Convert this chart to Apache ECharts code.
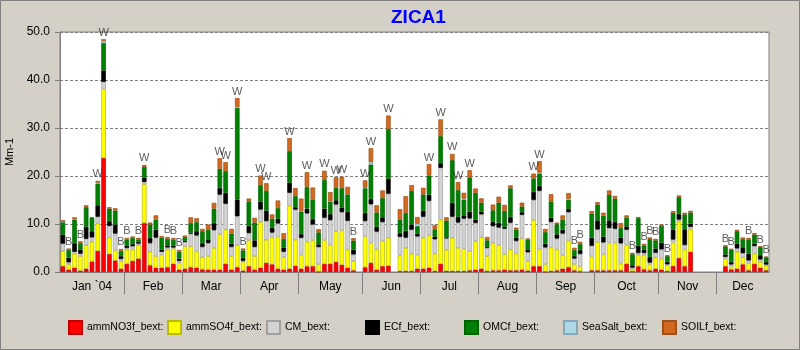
<!DOCTYPE html>
<html><head><meta charset="utf-8">
<script src="https://cdn.jsdelivr.net/npm/echarts@6/dist/echarts.min.js"></script>
<style>html,body{margin:0;padding:0;background:#d4d0c8}#c{width:800px;height:350px}</style>
</head><body><div id="c"></div>
<script>
// month tick boundaries (in sample slots) and month label positions
const monthLabels = ['Jan `04','Feb','Mar','Apr','May','Jun','Jul','Aug','Sep','Oct','Nov','Dec'];
const monthTicks = [11,21,31,41,52,62,72,82,92,103,113];
const monthLabelPos = [5.5,16,26,36,46.5,57,67,77,87,97.5,108,117.5];
const yTicks = [0,10,20,30,40,50];

const ammNO3f = [1.2,0.5,0.9,0.3,0.7,2.2,4.4,23.75,3.75,2.4, 0.7,1.7,2.3,2.8,10.2,1.4,0.9,0.9,1.0,1.7,
 0.5,0.7,1.0,0.9,0.55,0.5,0.5,0.5,1.7,0.5, 1.0,0.3,1.2,0.5,0.9,1.9,1.6,0.7,0.5,0.7,
 1.3,0.7,1.2,1.2,0.1,1.7,1.7,2.1,1.5,0.9, 0.35,null,1.0,1.9,0.5,1.2,1.3,null,0.2,0.2,
 0.2,0.7,0.7,0.9,0.2,1.7,0.2,0.2,0.2,0.2, 0.35,0.5,0.7,0.2,0.35,0.35,0.5,0.35,0.35,0.5,
 0.3,1.2,1.2,0.1,0.2,0.35,0.7,1.0,0.35,0.15, null,0.35,0.35,0.35,0.35,0.35,0.35,1.7,0.15,1.2,
 0.55,0.35,0.7,0.5,0.2,1.25,2.9,1.2,4.2,null, null,null,null,null,1.2,0.55,0.7,1.6,0.35,1.7,
 0.9,0.35];
const ammSO4f = [3.2,1.1,2.9,3.0,4.9,4.1,5.7,14.45,3.4,2.1, 1.5,2.95,2.35,2.8,8.1,2.8,2.4,2.7,3.65,3.2,
 1.4,4.65,4.35,3.4,2.55,2.8,4.5,7.35,7.1,2.8, 4.6,1.8,5.4,2.8,9.5,4.8,5.7,6.7,2.6,13.1,
 5.4,2.9,5.1,5.4,1.5,4.9,4.0,6.4,7.15,3.75, 1.9,null,6.4,4.2,4.2,5.2,5.8,null,3.2,4.8,
 3.6,2.9,6.4,6.7,3.6,9.2,4.4,6.9,4.8,4.65, 4.0,5.9,6.5,3.1,5.7,5.2,3.2,4.3,3.5,6.5,
 2.0,9.6,3.5,1.5,4.9,4.3,2.8,5.55,1.25,1.0, null,2.9,5.9,3.3,5.75,5.75,1.4,4.0,0.4,2.4,
 2.9,1.25,2.3,2.3,1.2,4.9,7.6,3.5,4.65,null, null,null,null,null,1.6,0.6,3.5,1.5,1.5,2.1,
 1.2,1.0];
const CM = [1.5,0.4,0.4,0.5,1.3,0.9,1.4,1.4,2.45,3.5, 0.5,0.35,0.7,0.3,0.45,1.8,3.85,0.6,0.45,0.2,
 0.4,0.9,2.65,3.3,2.1,2.7,3.7,8.25,5.4,1.9, 6.0,0.2,1.5,1.9,2.6,3.9,0.9,2.7,1.1,2.7,
 6.3,3.5,5.9,3.3,3.6,4.7,5.1,5.55,3.8,6.0, 1.4,null,3.2,8.0,3.7,4.0,9.2,null,3.9,2.15,
 5.0,3.8,4.4,7.2,3.0,10.8,2.4,4.4,5.3,6.25, 6.8,3.8,4.8,1.7,3.5,3.7,5.3,5.6,2.6,4.9,
 1.8,4.2,12.2,3.5,5.3,2.3,4.5,5.9,1.2,2.6, null,2.2,2.6,2.5,3.05,2.9,4.2,3.1,0.35,0.35,
 0.5,0.35,1.0,1.9,0.2,0.6,0.4,0.9,0.55,null, null,null,null,null,0.35,0.4,0.7,0.8,0.55,1.6,
 0.5,0.2];
const ECf = [1.9,1.0,1.8,0.9,2.5,1.3,2.4,2.4,1.0,1.9, 0.6,0.5,0.45,0.35,0.9,1.1,1.65,0.45,0.45,0.4,
 0.5,0.25,0.2,0.9,0.8,0.8,1.5,1.4,2.3,0.7, 3.5,0.6,1.5,1.4,1.7,2.2,1.0,1.0,0.9,2.1,
 0.5,0.8,1.0,1.1,0.55,1.9,1.25,0.9,1.0,1.9, 1.0,null,1.7,1.1,1.0,1.0,3.1,null,0.8,1.4,
 1.1,0.55,1.25,1.3,0.6,1.0,0.2,2.9,1.2,0.7, 1.4,0.7,0.55,0.2,0.9,1.0,0.4,1.2,0.7,0.55,
 0.6,1.7,1.0,0.8,0.9,0.9,0.8,0.7,0.5,0.8, null,1.7,1.9,1.2,1.6,1.4,1.25,0.7,0.5,1.5,
 0.7,1.2,0.9,1.4,0.5,2.1,1.2,3.3,0.7,null, null,null,null,null,0.5,0.5,1.0,1.25,1.4,0.5,
 0.9,0.5];
const OMCf = [2.6,1.6,4.9,1.3,4.1,2.8,4.5,5.7,2.6,2.9, 1.1,1.3,1.3,0.55,2.25,2.8,2.1,2.5,1.35,1.2,
 1.4,0.8,2.0,1.9,2.5,2.0,3.0,4.0,4.5,2.1, 19.1,1.6,5.1,3.7,3.4,4.1,1.9,2.2,1.8,6.6,
 2.3,4.7,4.5,4.1,2.5,6.0,2.6,2.6,4.0,3.6, 1.9,null,5.2,7.2,3.0,4.0,10.4,null,2.8,3.75,
 7.0,1.6,3.4,4.0,1.5,5.6,3.5,8.9,5.55,3.3, 7.15,5.6,1.9,1.4,2.4,4.2,3.3,6.0,1.7,1.2,
 2.0,2.8,2.6,2.4,3.4,2.1,2.1,1.9,1.25,1.25, null,5.0,3.3,4.4,5.35,4.9,2.0,1.8,2.3,5.8,
 0.9,3.7,1.7,3.5,1.2,3.5,3.5,3.1,2.3,null, null,null,null,null,1.7,2.6,2.6,1.7,3.0,1.9,
 1.7,1.0];
const SeaSalt = [0.1,0,0.1,0,0,0,0.2,0.4,0,0, 0,0,0,0,0,0,0,0,0,0,
 0,0,0,0,0,0,0,0,0,0, 0.2,0,0,0,0,0,0,0,0,0,
 0,0.1,0,0,0,0,0.1,0,0,0, 0,null,0.1,0.5,0,0,0,null,0,0,
 0,0.5,0,0,0,0,0,0,0,0.2, 0,0,0,0,0,0,0,0,0,0,
 0,0,0.2,0,0,0,0,0.2,0,0, null,0,0,0,0,0,0,0,0,0,
 0,0,0,0,0,0,0,0,0,null, null,null,null,null,0,0,0,0,0,0,
 0,0];
const SOILf = [0.3,0.3,0.4,0.4,0.4,0.1,0.4,0.4,0.3,0.5, 0.4,0.3,0.3,0.3,0.4,0.4,0.9,0.35,0.4,0.4,
 0.4,0.3,1.2,0.8,0.5,1.1,1.2,2.2,1.9,1.0, 1.85,0.4,0.6,1.0,2.0,1.6,0.9,1.6,1.2,2.7,
 1.7,2.6,3.1,2.5,0.7,1.9,1.9,2.2,2.4,1.6, 0.5,null,1.5,2.9,1.5,1.6,2.8,null,2.2,3.5,
 1.2,1.4,1.4,2.4,0.9,3.5,0.7,1.3,1.7,1.2, 1.5,0.9,0.9,0.7,1.2,1.25,1.3,0.6,0.4,0.8,
 0.3,1.0,2.4,0.7,1.5,0.35,0.9,1.2,0.5,0.5, null,0.55,0.5,0.6,0.9,0.55,1.0,0.5,0.3,0.2,
 0.3,0.35,0.3,0.3,0.2,0.35,0.35,0.35,0.35,null, null,null,null,null,0.2,0.2,0.3,0.35,0.3,0.3,
 0.2,0.15];
// W = worst, B = best day markers
const flags = ['','B','','B','','','W','W','','', 'B','B','','B','W','','','','B','B',
 'B','','','','','','','W','W','', 'W','B','','','W','W','','','','W',
 '','','W','','','W','','W','W','', 'B','','W','W','','','W','','','',
 '','','','W','','W','','W','W','', 'W','','','','','','','','','',
 '','W','W','','','','','','B','B', '','','','','','','','','B','',
 'B','B','B','','B','','','','','', '','','','','B','B','','','B','',
 'B','B'];

const seriesNames = ['ammNO3f_bext:','ammSO4f_bext:','CM_bext:','ECf_bext:','OMCf_bext:','SeaSalt_bext:','SOILf_bext:'];
const seriesData = [ammNO3f, ammSO4f, CM, ECf, OMCf, SeaSalt, SOILf];
const fills = ['#ff0000','#ffff00','#d3d3d3','#000000','#008000','#add8e6','#d2691e'];
const borders = ['#c00000','#bcbc00','#a0a0a0','#000000','#006400','#86a8b8','#a0501a'];

const categories = [];
{ const d0 = Date.UTC(2004,0,1); for (let i = 0; i < ammNO3f.length; i++) { const d = new Date(d0 + i*3*86400000); categories.push(d.toISOString().slice(0,10)); } }

const FONT = 'Liberation Sans, Arial, sans-serif';
const totals = categories.map((c,i) => ammNO3f[i]==null ? null : seriesData.reduce((s,a)=>s+(a[i]||0),0));

const chart = echarts.init(document.getElementById('c'), null, {renderer:'canvas'});
const series = seriesData.map((arr,si) => ({
  type:'bar', name: seriesNames[si], stack:'total', xAxisIndex:0, yAxisIndex:0,
  barWidth: 4.6,
  data: arr.map(v => (v===0 ? null : v)),
  itemStyle:{color: fills[si], borderColor: borders[si], borderWidth: 0.7},
  emphasis:{disabled:true}, silent:true
}));
series.push({
  type:'scatter', xAxisIndex:0, yAxisIndex:0, symbolSize:0, silent:true,
  data: totals.map((t,i) => flags[i] ? [i, t] : null).filter(Boolean),
  label:{show:true, position:'top', distance:1, color:'#333', fontSize:11, fontFamily:FONT,
    formatter: p => flags[p.value[0]]}
});

const legends = seriesNames.map((n,i) => ({
  data:[n], left: 68 + 99*i, top: 320, itemWidth:13, itemHeight:13, itemGap:0, icon:'rect',
  padding:0, selectedMode:false, textStyle:{fontSize:10.5, color:'#000', fontFamily:FONT}
}));

chart.setOption({
  animation:false,
  backgroundColor:'#d4d0c8',
  title:{text:'ZICA1', left:386, top:3, textStyle:{color:'#0000ff', fontSize:19, fontWeight:'bold', fontFamily:FONT}},
  legend: legends,
  grid:{left:60, top:32, right:31, bottom:78, containLabel:false, outerBoundsMode:'none',
        show:true, backgroundColor:'#ffffff', borderColor:'#808080', borderWidth:1},
  xAxis:[
    {type:'category', data:categories, show:false, boundaryGap:true},
    {type:'value', min:0, max:categories.length, position:'bottom',
     axisLine:{show:true, lineStyle:{color:'#808080'}},
     axisTick:{show:true, customValues:monthTicks, length:22, lineStyle:{color:'#808080'}},
     axisLabel:{show:true, customValues:monthLabelPos, margin:9, color:'#000', fontSize:12, fontFamily:FONT,
       formatter: v => { const k = monthLabelPos.indexOf(v); return k>=0 ? monthLabels[k] : ''; }},
     splitLine:{show:false}}
  ],
  yAxis:{type:'value', min:yTicks[0], max:yTicks[yTicks.length-1], interval:10,
    name:'Mm-1', nameLocation:'middle', nameGap:40, nameTextStyle:{fontSize:11, color:'#000', fontFamily:FONT},
    axisLine:{show:true, lineStyle:{color:'#808080'}},
    axisTick:{show:true, length:5, lineStyle:{color:'#808080'}},
    axisLabel:{margin:10, color:'#000', fontSize:12, fontFamily:FONT, formatter: v => v.toFixed(1)},
    splitLine:{show:true, lineStyle:{color:'#808080', type:[3,2], width:1}}},
  graphic:[{type:'rect', shape:{x:0.5, y:0.5, width:799, height:349}, style:{fill:null, stroke:'#808080', lineWidth:1}, silent:true, z:100}],
  series: series
});
</script></body></html>
